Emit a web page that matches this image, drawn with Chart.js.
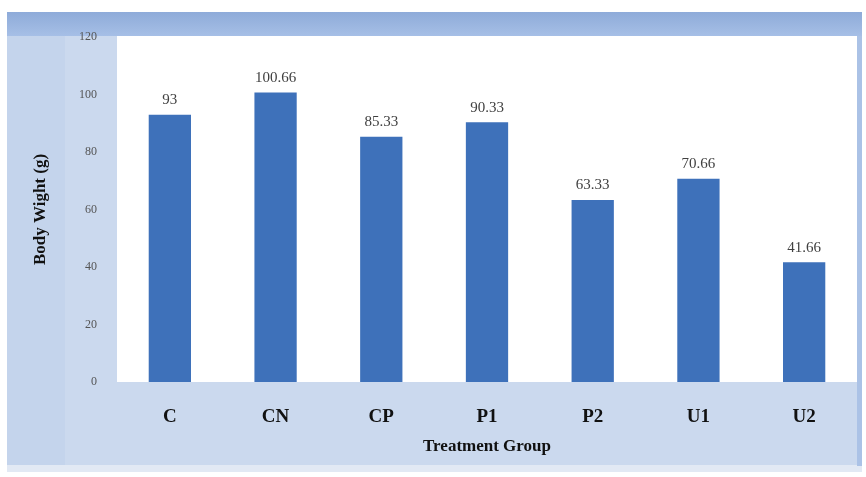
<!DOCTYPE html>
<html>
<head>
<meta charset="utf-8">
<script src="https://cdn.jsdelivr.net/npm/chart.js@4"></script>
<style>
  body { margin: 0; background: #fff; }
  #wrap { width: 866px; height: 477px; }
</style>
</head>
<body>
<div id="wrap"><canvas id="barChart" width="866" height="477"></canvas></div>
<script>
    const groups = ['C', 'CN', 'CP', 'P1', 'P2', 'U1', 'U2'];
    const weights = [93, 100.66, 85.33, 90.33, 63.33, 70.66, 41.66];
    const weightLabels = ['93', '100.66', '85.33', '90.33', '63.33', '70.66', '41.66'];

    const serif = '"Liberation Serif", "DejaVu Serif", serif';

    /* panel backgrounds, like the office chart frame */
    const panelBg = {
        id: 'panelBg',
        beforeDraw(chart) {
            const ctx = chart.ctx;
            const a = chart.chartArea;
            ctx.save();
            ctx.fillStyle = '#ffffff';
            ctx.fillRect(0, 0, chart.width, chart.height);
            // outer frame
            ctx.fillStyle = '#cbd9ee';
            ctx.fillRect(7, 12, 855, 460);
            // left title column
            ctx.fillStyle = '#c4d4ec';
            ctx.fillRect(7, 35, 58, 430);
            // bottom light strip
            ctx.fillStyle = '#e2e9f4';
            ctx.fillRect(7, 465, 855, 7);
            // top band
            const g = ctx.createLinearGradient(0, 12, 0, 36);
            g.addColorStop(0, '#8eabd9');
            g.addColorStop(1, '#a6bfe6');
            ctx.fillStyle = g;
            ctx.fillRect(7, 12, 855, 24);
            // right strip
            ctx.fillStyle = '#abc2e6';
            ctx.fillRect(a.right, 36, 862 - a.right, 430);
            // plot area
            ctx.fillStyle = '#ffffff';
            ctx.fillRect(a.left, a.top - 1, a.right - a.left, a.bottom - a.top + 1);
            ctx.restore();
        }
    };

    /* value labels over bars */
    const barValues = {
        id: 'barValues',
        afterDatasetsDraw(chart) {
            const ctx = chart.ctx;
            const meta = chart.getDatasetMeta(0);
            ctx.save();
            ctx.font = '15px ' + serif;
            ctx.fillStyle = '#404040';
            ctx.textAlign = 'center';
            ctx.textBaseline = 'bottom';
            meta.data.forEach((bar, i) => {
                ctx.fillText(weightLabels[i], bar.x, bar.y - 7);
            });
            ctx.restore();
        }
    };

    new Chart(document.getElementById('barChart'), {
        type: 'bar',
        data: {
            labels: groups,
            datasets: [{
                label: 'Body Wight (g)',
                data: weights,
                backgroundColor: '#3e71ba',
                borderWidth: 0,
                barPercentage: 0.4,
                categoryPercentage: 1.0
            }]
        },
        options: {
            responsive: false,
            animation: false,
            layout: { padding: { top: 37, right: 9, left: 0, bottom: 0 } },
            plugins: {
                legend: { display: false },
                tooltip: { enabled: false }
            },
            scales: {
                x: {
                    grid: { display: false },
                    border: { display: false },
                    ticks: {
                        color: '#111',
                        padding: 16,
                        font: { family: serif, size: 19, weight: 'bold' }
                    },
                    title: {
                        display: true,
                        text: 'Treatment Group',
                        color: '#111',
                        padding: { top: 0, bottom: 20 },
                        font: { family: serif, size: 17, weight: 'bold' }
                    },
                    afterFit(scale) { scale.height = 95; }
                },
                y: {
                    min: 0,
                    max: 120,
                    grid: { display: false },
                    border: { display: false },
                    ticks: {
                        stepSize: 20,
                        color: '#555',
                        padding: 12,
                        font: { family: serif, size: 12 }
                    },
                    title: {
                        display: true,
                        text: 'Body Wight (g)',
                        color: '#111',
                        padding: { top: 30, bottom: 0 },
                        font: { family: serif, size: 17, weight: 'bold' }
                    },
                    afterFit(scale) { scale.width = 117; }
                }
            }
        },
        plugins: [panelBg, barValues]
    });
</script>
</body>
</html>
